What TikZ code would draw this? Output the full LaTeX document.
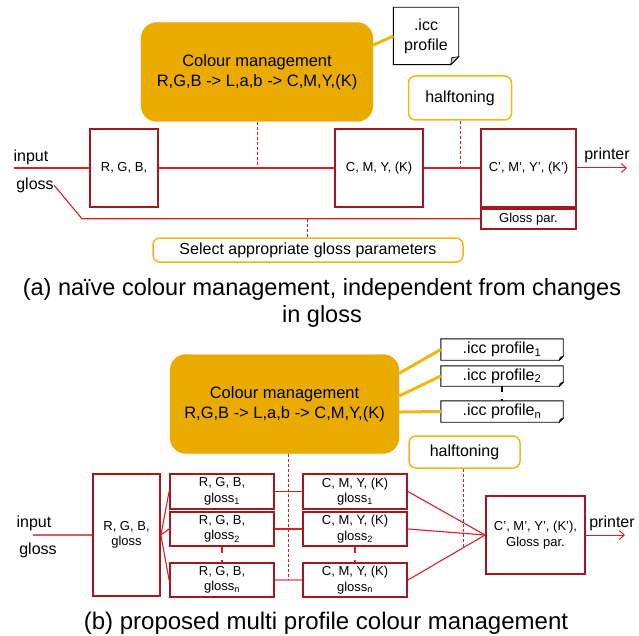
\documentclass[tikz,border=0pt]{standalone}
\usepackage{fontspec}
\setmainfont{Liberation Sans}
\usetikzlibrary{calc,arrows.meta}
\definecolor{cmorange}{RGB}{234,171,0}
\definecolor{htorange}{RGB}{242,182,20}
\definecolor{boxred}{RGB}{165,22,30}
\definecolor{linered}{RGB}{214,32,40}
\definecolor{linepink}{RGB}{236,130,140}
\newcommand{\dogear}[2]{%
  \draw[line width=0.9pt] (#1.north west) -- (#1.north east) -- ([yshift=#2]#1.south east)
    -- ([xshift=-#2]#1.south east) -- (#1.south west) -- cycle;
  \draw[line width=0.6pt,fill=black!22] ([yshift=#2]#1.south east) -- ([xshift=-#2]#1.south east)
    -- ([xshift=-#2+1pt,yshift=#2-1pt]#1.south east) -- cycle;}
\begin{document}
\begin{tikzpicture}[x=1pt,y=-1pt,
  cmbox/.style={fill=cmorange,draw=cmorange,rounded corners=16pt,align=center,inner sep=0pt,
    font=\fontsize{16.5}{20}\selectfont},
  procbox/.style={draw=boxred,line width=1.8pt,fill=white,align=center,inner sep=0pt,
    font=\fontsize{13}{15.5}\selectfont},
  obox/.style={draw=htorange,line width=1.5pt,rounded corners=7pt,fill=white,inner sep=0pt,
    font=\fontsize{16}{19}\selectfont},
  note/.style={inner sep=0pt,align=center,font=\fontsize{16}{20}\selectfont},
  tag/.style={inner sep=0pt,font=\fontsize{16}{19}\selectfont},
  caption/.style={align=center,inner sep=0pt,font=\fontsize{23.5}{27}\selectfont},
  wire/.style={linered,line width=1.1pt},
  outwire/.style={linered,line width=1pt,-{Straight Barb[length=5pt,width=9pt]}},
  pinkwire/.style={linepink,line width=2pt},
  dashwire/.style={linered,line width=0.9pt,dash pattern=on 3pt off 2pt},
  dotwire/.style={line width=2.4pt,dash pattern=on 6pt off 7pt},
  olink/.style={htorange,line width=3pt}]
\useasboundingbox (0,0) rectangle (639,636);

\node[cmbox,minimum width=232pt,minimum height=99pt] (cm) at (257,72) {Colour management\\R,G,B -> L,a,b -> C,M,Y,(K)};
\node[note,minimum width=65pt,minimum height=57pt] (icc) at (426,36) {.icc\\profile};
\node[obox,minimum width=103pt,minimum height=44pt] (ht) at (460,98) {halftoning};
\node[procbox,minimum width=68pt,minimum height=78pt] (rgb) at (124,168) {R, G, B,};
\node[procbox,minimum width=88pt,minimum height=78pt] (cmy) at (379,168) {C, M, Y, (K)};
\node[procbox,minimum width=95pt,minimum height=78pt] (cpr) at (528.5,168) {C', M', Y', (K')};
\node[procbox,minimum width=95pt,minimum height=20pt,anchor=north] (gp) at (cpr.south) {Gloss par.};
\node[obox,minimum width=310pt,minimum height=24pt] (sel) at (308,250) {Select appropriate gloss parameters};
\node[tag] (in) at (31,157) {input};
\node[tag] (gl) at (35,185) {gloss};
\node[tag] (pr) at (607,155) {printer};
\coordinate (start) at (14,168);
\coordinate (out) at (627,168);
\coordinate (bend) at (82,0);
\coordinate (gx) at (307,0);

\dogear{icc}{8pt}
\draw[olink] (cm.13) -- (icc.west);
\draw[wire] (start) -- (rgb.west);
\draw[wire] (rgb.east) -- (cmy.west);
\draw[wire] (cmy.east) -- (cpr.west);
\draw[outwire] (cpr.east) -- (out);
\draw[wire] (gl.east) -- (bend |- gp.west) -- (gp.west);
\draw[dashwire] (cm.south) -- (cm.south |- rgb.east);
\draw[dashwire] (ht.south) -- (ht.south |- cmy.east);
\draw[dashwire] (gx |- gp.west) -- (gx |- sel.north);

\node[caption] (capa) at (322,303) {(a) naïve colour management, independent from changes\\in gloss};

\node[cmbox,minimum width=229pt,minimum height=99pt] (cmb) at (284.5,404) {Colour management\\R,G,B -> L,a,b -> C,M,Y,(K)};
\node[note,minimum width=122pt,minimum height=21pt] (icca) at (502,349.5) {.icc profile\textsubscript{1}};
\node[note,minimum width=122pt,minimum height=20pt] (iccb) at (502,376) {.icc profile\textsubscript{2}};
\node[note,minimum width=122pt,minimum height=21pt] (iccn) at (502,411.5) {.icc profile\textsubscript{n}};
\node[obox,minimum width=111pt,minimum height=32pt] (htb) at (464.5,452) {halftoning};
\node[procbox,minimum width=67pt,minimum height=122pt] (rgbg) at (126.5,535) {R, G, B,\\gloss};
\node[procbox,minimum width=104pt,minimum height=35pt] (rgba) at (222,491.5) {R, G, B,\\gloss\textsubscript{1}};
\node[procbox,minimum width=104pt,minimum height=34pt] (rgbb) at (222,529) {R, G, B,\\gloss\textsubscript{2}};
\node[procbox,minimum width=104pt,minimum height=34pt] (rgbn) at (222,580) {R, G, B,\\gloss\textsubscript{n}};
\node[procbox,minimum width=104pt,minimum height=35pt] (cmya) at (355,491.5) {C, M, Y, (K)\\gloss\textsubscript{1}};
\node[procbox,minimum width=104pt,minimum height=34pt] (cmyb) at (355,529) {C, M, Y, (K)\\gloss\textsubscript{2}};
\node[procbox,minimum width=104pt,minimum height=34pt] (cmyn) at (355,580) {C, M, Y, (K)\\gloss\textsubscript{n}};
\node[procbox,minimum width=99pt,minimum height=78pt] (cprb) at (535.5,535) {C', M', Y', (K'),\\Gloss par.};
\node[tag] (inb) at (34,523) {input};
\node[tag] (glb) at (38,550) {gloss};
\node[tag] (prb) at (612,523) {printer};
\coordinate (startb) at (33,535);
\coordinate (outb) at (625,535);
\coordinate (mn) at ($(rgbn.east)!0.5!(cmyn.west)$);
\coordinate (hx) at ($(cmyn.east)!0.72!(cprb.west)$);

\dogear{icca}{4pt}
\dogear{iccb}{4pt}
\dogear{iccn}{4pt}
\draw[olink] (cmb.15) -- (icca.west);
\draw[olink] (cmb.4) -- (iccb.west);
\draw[olink] (cmb.-4) -- (iccn.west);
\draw[dotwire] (iccb.south) -- (iccn.north);
\draw[wire,linered!75!white] (startb) -- (rgbg.west);
\foreach \k in {a,b,n} \draw[wire] (rgbg.east) -- (rgb\k.west);
\draw[wire] (rgba.east) -- (cmya.west);
\draw[wire] (rgbb.east) -- (cmyb.west);
\draw[pinkwire] (rgbn.east) -- (cmyn.west);
\foreach \k in {a,b,n} \draw[wire] (cmy\k.east) -- (cprb.west);
\draw[dotwire,linered] (rgbb.south) -- (rgbn.north);
\draw[dotwire,linered] (cmyb.south) -- (cmyn.north);
\draw[dashwire] (mn |- cmb.south) -- (mn);
\draw[dashwire] (hx |- htb.south) -- (hx);
\draw[outwire] (cprb.east) -- (outb);

\node[caption,font=\fontsize{24}{27}\selectfont] (capb) at (326,623) {(b) proposed multi profile colour management};
\end{tikzpicture}
\end{document}
